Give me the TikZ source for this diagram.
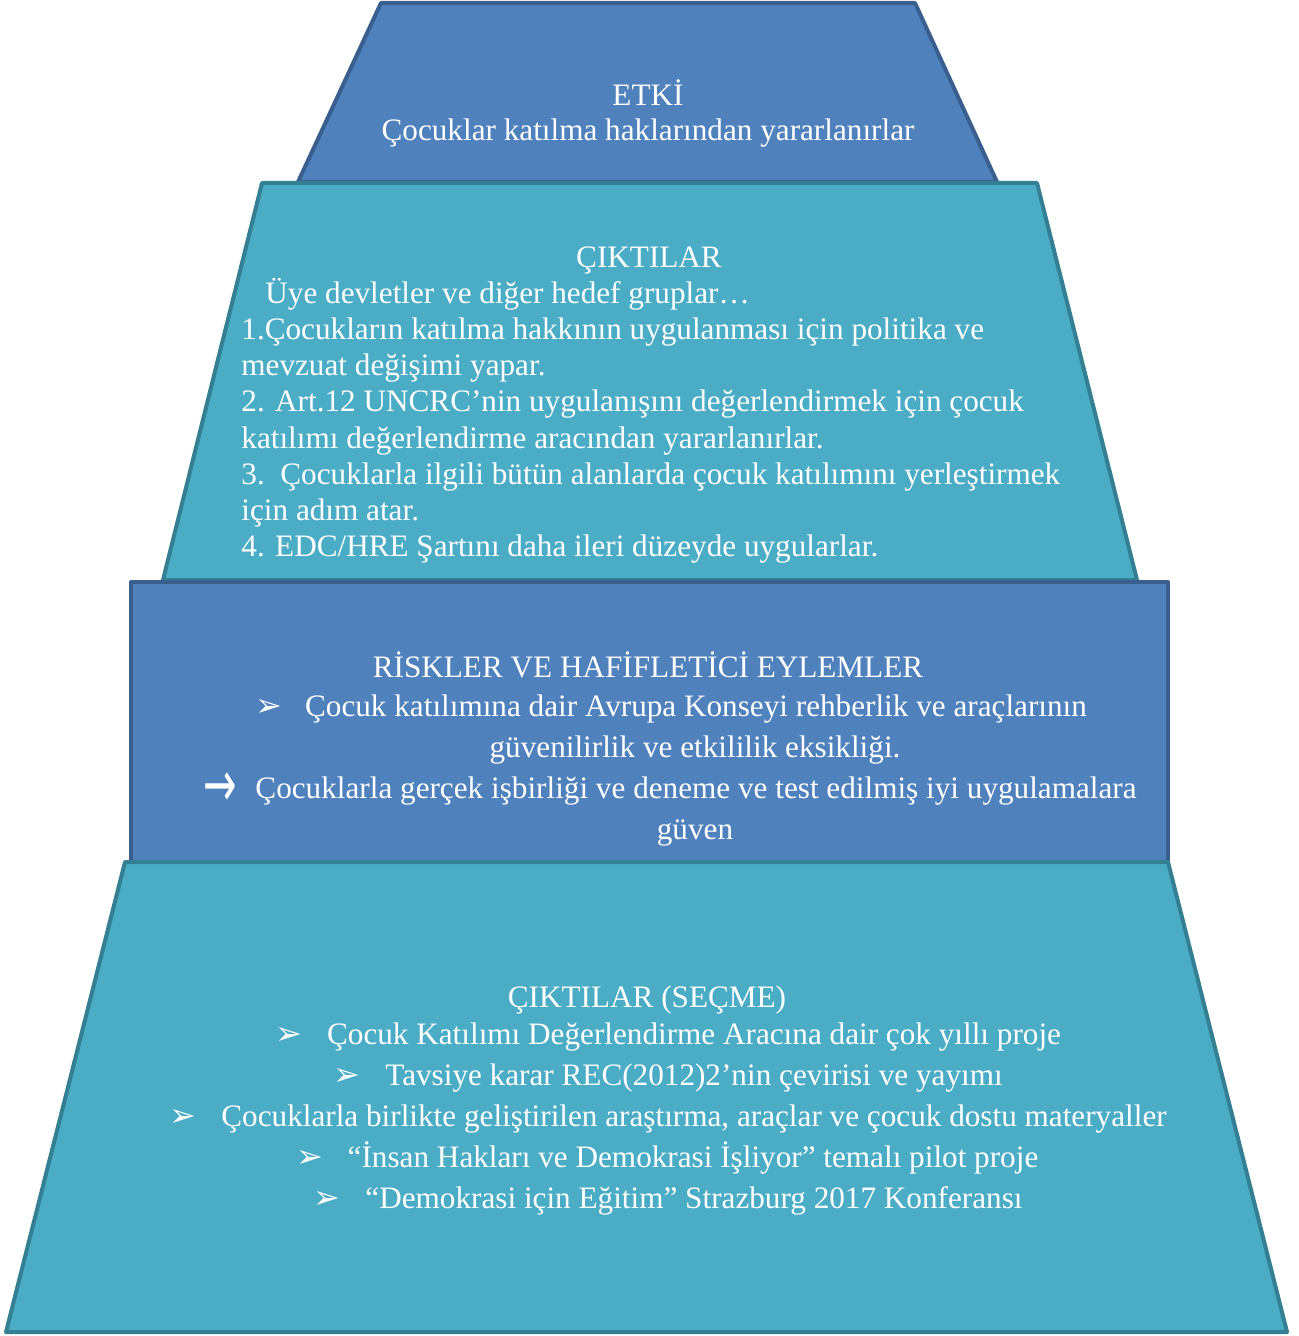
\documentclass[tikz,border=0pt]{standalone}
\usepackage{fontspec}
\usepackage{graphicx}
\setmainfont{Liberation Serif}
\newfontfamily\symfont{DejaVu Sans}
\usetikzlibrary{positioning}

\definecolor{boxblue}{HTML}{4F81BD}
\definecolor{lineblue}{HTML}{3A5F8E}
\definecolor{boxteal}{HTML}{4BACC6}
\definecolor{lineteal}{HTML}{357F92}

\tikzset{
  txt/.style={text=white, font=\fontsize{15.6}{18}\selectfont, inner sep=0pt, anchor=base},
  txtl/.style={txt, anchor=base west},
  bul/.style={text=white, font=\symfont\fontsize{16}{16}\selectfont, inner sep=0pt, anchor=base east},
  arr/.style={bul, font=\symfont\fontsize{20}{20}\selectfont},
  blueblock/.style={draw=lineblue, fill=boxblue, line width=2pt, line join=round},
  tealblock/.style={draw=lineteal, fill=boxteal, line width=2pt, line join=round}
}

\begin{document}
\begin{tikzpicture}[x=0.5pt, y=-0.5pt]
\useasboundingbox (0,0) rectangle (1298,1336);

% ETKI
\draw[blueblock] (381,3) -- (915,3) -- (997,182) -- (298,182) -- cycle;
\node[txt] (etki) at (648,106) {ETKİ};
\node[txt] (etki2) at (648,141) {Çocuklar katılma haklarından yararlanırlar};

% CIKTILAR
\draw[tealblock] (262,183) -- (1037,183) -- (1137,580) -- (163,580) -- cycle;
\node[txt] (cik) at (649,268) {ÇIKTILAR};
\node[txtl] (cik1) at (265,304) {Üye devletler ve diğer hedef gruplar…};
\node[txtl] (cik2) at (241,340) {1.Çocukların katılma hakkının uygulanması için politika ve};
\node[txtl] (cik3) at (241,376) {mevzuat değişimi yapar.};
\node[txtl] (cik4) at (241,412) {2. Art.12 UNCRC’nin uygulanışını değerlendirmek için çocuk};
\node[txtl] (cik5) at (241,448) {katılımı değerlendirme aracından yararlanırlar.};
\node[txtl] (cik6) at (241,484) {3.\ \ Çocuklarla ilgili bütün alanlarda çocuk katılımını yerleştirmek};
\node[txtl] (cik7) at (241,520) {için adım atar.};
\node[txtl] (cik8) at (241,556) {4. EDC/HRE Şartını daha ileri düzeyde uygularlar.};

% RISKLER
\draw[blueblock] (131,582) rectangle (1168,862);
\node[txt] (risk) at (648,677) {RİSKLER VE HAFİFLETİCİ EYLEMLER};
\node[txt] (risk1) at (696,716) {Çocuk katılımına dair Avrupa Konseyi rehberlik ve araçlarının};
\node[bul] (risk1b) at ([xshift=-11pt]risk1.base west) {➢};
\node[txt] (risk2) at (695,757) {güvenilirlik ve etkililik eksikliği.};
\node[txt] (risk3) at (696,798) {Çocuklarla gerçek işbirliği ve deneme ve test edilmiş iyi uygulamalara};
\node[arr] (risk3b) at ([xshift=-9pt,yshift=-4pt]risk3.base west) {\scalebox{1}[1.6]{→}};
\node[txt] (risk4) at (695,839) {güven};

% CIKTILAR (SECME)
\draw[tealblock] (125,862) -- (1168,862) -- (1287,1332) -- (6,1332) -- cycle;
\node[txt] (sec) at (647,1007) {ÇIKTILAR (SEÇME)};
\node[txt] (sec1) at (694,1044) {Çocuk Katılımı Değerlendirme Aracına dair çok yıllı proje};
\node[bul] (sec1b) at ([xshift=-12pt]sec1.base west) {➢};
\node[txt] (sec2) at (694,1085) {Tavsiye karar REC(2012)2’nin çevirisi ve yayımı};
\node[bul] (sec2b) at ([xshift=-12pt]sec2.base west) {➢};
\node[txt] (sec3) at (694,1126) {Çocuklarla birlikte geliştirilen araştırma, araçlar ve çocuk dostu materyaller};
\node[bul] (sec3b) at ([xshift=-12pt]sec3.base west) {➢};
\node[txt] (sec4) at (693,1167) {“İnsan Hakları ve Demokrasi İşliyor” temalı pilot proje};
\node[bul] (sec4b) at ([xshift=-12pt]sec4.base west) {➢};
\node[txt] (sec5) at (694,1208) {“Demokrasi için Eğitim” Strazburg 2017 Konferansı};
\node[bul] (sec5b) at ([xshift=-12pt]sec5.base west) {➢};
\end{tikzpicture}
\end{document}
